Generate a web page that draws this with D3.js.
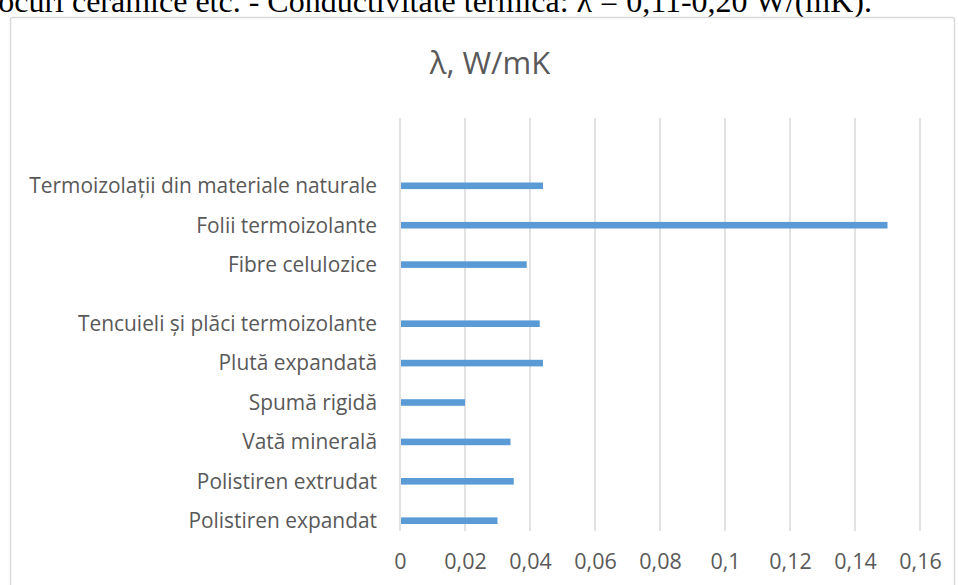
<!DOCTYPE html>
<html>
<head>
<meta charset="utf-8">
<script src="https://cdn.jsdelivr.net/npm/d3@7"></script>
<style>
  body { margin: 0; background: #fff; }
  svg { display: block; }
</style>
</head>
<body>
<div id="chart"></div>
<script>
// materials, top group then bottom group (drawn top to bottom)
var groupTop = ["Termoizolații din materiale naturale", "Folii termoizolante", "Fibre celulozice"];
var groupBottom = ["Tencuieli și plăci termoizolante", "Plută expandată", "Spumă rigidă",
    "Vată minerală", "Polistiren extrudat", "Polistiren expandat"];
var valuesTop = [0.044, 0.150, 0.039];
var valuesBottom = [0.043, 0.044, 0.020, 0.034, 0.035, 0.030];
var ticks = [0, 0.02, 0.04, 0.06, 0.08, 0.1, 0.12, 0.14, 0.16];
var title = "λ, W/mK";
var caption = "blocuri ceramice etc. - Conductivitate termică: λ = 0,11-0,20 W/(mK).";

var width = 958, height = 585;

var svg = d3.select("#chart").append("svg")
    .attr("width", width)
    .attr("height", height);

// text of the page above the chart (cut off at the top, as in the scan)
svg.append("text")
    .attr("x", 872)
    .attr("y", 12)
    .attr("text-anchor", "end")
    .style("font-family", "'Liberation Serif', 'Times New Roman', serif")
    .style("font-size", "32px")
    .style("fill", "#000")
    .text(caption);

// chart frame
svg.append("rect")
    .attr("x", 10.5).attr("y", 17.5)
    .attr("width", 944).attr("height", 600)
    .attr("rx", 2)
    .style("fill", "#fff")
    .style("stroke", "#d9d9d9")
    .style("stroke-width", 1.5);

// title
svg.append("text")
    .attr("x", 490)
    .attr("y", 74)
    .attr("text-anchor", "middle")
    .style("font-family", "'Open Sans', sans-serif")
    .style("font-size", "31px")
    .style("fill", "#595959")
    .text(title);

var x = d3.scaleLinear().domain([0, 0.16]).range([400, 920]);

// build rows bottom-up: bottom group rows 0..5, then half row gap, top group
var rows = [];
groupBottom.slice().reverse().forEach(function (name, i) {
    rows.push({ name: name, value: valuesBottom[groupBottom.length - 1 - i], row: i });
});
groupTop.slice().reverse().forEach(function (name, i) {
    rows.push({ name: name, value: valuesTop[groupTop.length - 1 - i], row: groupBottom.length + 0.5 + i });
});

var y = d3.scaleLinear().domain([0, 8.5]).range([520.7, 185.8]);

// gridlines
svg.append("g")
    .selectAll("line")
    .data(ticks)
    .join("line")
    .attr("x1", function (d) { return x(d); })
    .attr("x2", function (d) { return x(d); })
    .attr("y1", 118)
    .attr("y2", 531)
    .style("stroke", "#d9d9d9")
    .style("stroke-width", 1.5);

// x axis labels
var xAxis = d3.axisBottom(x)
    .tickValues(ticks)
    .tickSize(0)
    .tickPadding(0)
    .tickFormat(function (d) { return String(d).replace(".", ","); });

var gx = svg.append("g")
    .attr("transform", "translate(0,554)")
    .call(xAxis);
gx.select(".domain").remove();
gx.selectAll("text")
    .style("font-family", "'Open Sans', sans-serif")
    .style("font-size", "21.5px")
    .style("fill", "#595959");

// bars
svg.append("g")
    .selectAll("rect")
    .data(rows)
    .join("rect")
    .attr("x", x(0) + 1)
    .attr("y", function (d) { return y(d.row) - 3.3; })
    .attr("width", function (d) { return x(d.value) - x(0) - 1; })
    .attr("height", 6.6)
    .style("fill", "#5b9bd5");

// category labels
svg.append("g")
    .selectAll("text")
    .data(rows)
    .join("text")
    .attr("x", 377)
    .attr("y", function (d) { return y(d.row); })
    .attr("dy", "0.35em")
    .attr("text-anchor", "end")
    .style("font-family", "'Open Sans', sans-serif")
    .style("font-size", "20.9px")
    .style("fill", "#595959")
    .text(function (d) { return d.name; });
</script>
</body>
</html>
